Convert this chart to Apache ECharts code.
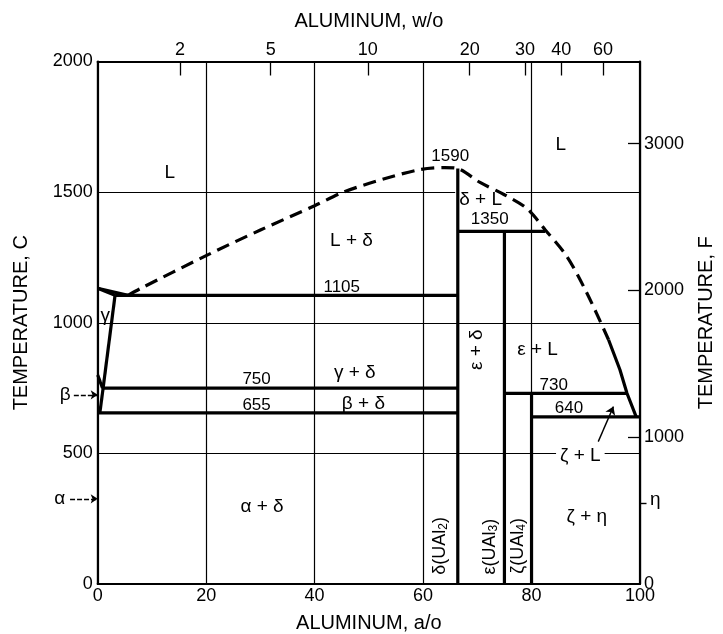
<!DOCTYPE html>
<html><head><meta charset="utf-8">
<script src="https://cdn.jsdelivr.net/npm/echarts@6/dist/echarts.min.js"></script>
<style>html,body{margin:0;padding:0;background:#fff}#c{width:723px;height:634px}</style>
</head><body><div id="c"></div>
<script>
// ---- axis ticks ----
const aTicks = [0, 20, 40, 60, 80, 100];
const tTicks = [0, 500, 1000, 1500, 2000];
const wTickLabels = ['2', '5', '10', '20', '30', '40', '60'];
const wTickPos = [15.2, 31.9, 49.8, 68.6, 78.8, 85.5, 93.2];
const fTickLabels = [0, 1000, 2000, 3000];
const fMax = 3560;

// ---- phase boundaries (x = a/o Al, y = deg C) ----
const uLiquidus = [[0, 1132], [5.6, 1105]];
const uSolidus = [[0, 1132], [3.2, 1105]];
const eutectic1105 = [[3.2, 1105], [66.4, 1105]];
const gammaSolvus = [[3.2, 1105], [1.0, 750]];
const betaSolvus = [[1.0, 750], [0.4, 655]];
const betaGammaEdge = [[0, 800], [0.5, 772], [0.9, 750]];
const eutectoid750 = [[1.0, 750], [66.4, 750]];
const eutectoid655 = [[0, 655], [66.4, 655]];
const deltaLine = [[66.4, 0], [66.4, 1590]];
const epsLine = [[75, 0], [75, 1350]];
const peritectic1350 = [[66.4, 1350], [82.5, 1350]];
const zetaLine = [[80, 0], [80, 730]];
const peritectic730 = [[75, 730], [97.6, 730]];
const eutectic640 = [[80, 640], [100, 640]];
const liquidusSolid = [[94.2, 935], [96.3, 820], [97.6, 730], [99.3, 640]];
const liquidusDashed = [[5.6, 1105], [7.8, 1130], [20, 1257], [30, 1355], [40, 1448], [45.3, 1500], [52.7, 1550], [59.4, 1586], [64, 1594], [66.4, 1590], [70.5, 1537], [75, 1490], [79.1, 1438], [82.5, 1356], [86.5, 1254], [90.2, 1114], [94.2, 935]];

// ---- annotations ----
const arrowZetaL = [[92.3, 545], [95.1, 679]];
const arrowBeta = [[-4.4, 724], [0, 724]];
const arrowAlpha = [[-5.1, 326], [0, 326]];
const etaTick = [[100, 309], [101.2, 309]];
// [x, y, text, rotate, whiteBackground]
const phaseLabels = [
  [13.3, 1575, 'L', 0], [85.4, 1682, 'L', 0], [65, 1637, '1590', 0],
  [70.6, 1472, 'δ + L', 0, true], [72.3, 1395, '1350', 0], [46.8, 1315, 'L + δ', 0],
  [45, 1136, '1105', 0], [1.4, 1025, 'γ', 0], [47.4, 808, 'γ + δ', 0],
  [29.3, 782, '750', 0], [29.3, 684, '655', 0], [49, 690, 'β + δ', 0],
  [30.3, 295, 'α + δ', 0], [69.9, 897, 'ε + δ', 90], [81.1, 897, 'ε + L', 0],
  [84.1, 762, '730', 0], [86.9, 674, '640', 0], [89, 490, 'ζ + L', 0, true],
  [90.2, 258, 'ζ + η', 0], [63.1, 146, 'δ(UAl{s|2})', 90], [72.3, 143, 'ε(UAl{s|3})', 90],
  [77.6, 146, 'ζ(UAl{s|4})', 90], [-6, 724, 'β', 0], [-7, 326, 'α', 0], [102.8, 322, 'η', 0]
];

const FONT = '"Liberation Sans", "DejaVu Sans", sans-serif';
const solidSets = [uLiquidus, uSolidus, eutectic1105, gammaSolvus, betaSolvus, betaGammaEdge,
  eutectoid750, eutectoid655, deltaLine, epsLine, peritectic1350, zetaLine, peritectic730,
  eutectic640, liquidusSolid];

const series = solidSets.map(d => ({
  type: 'line', data: d, symbol: 'none', silent: true, animation: false, z: 3,
  lineStyle: { color: '#000', width: 3.2 }, xAxisIndex: 0, yAxisIndex: 0
}));
series.push({
  type: 'line', data: liquidusDashed, symbol: 'none', smooth: 0.3, animation: false, z: 3,
  lineStyle: { color: '#000', width: 3.2, type: [13, 7] }
});
series.push({
  type: 'lines', coordinateSystem: 'cartesian2d', clip: false, animation: false, z: 3,
  symbol: ['none', 'arrow'], symbolSize: 8,
  lineStyle: { color: '#000', width: 1.4, opacity: 1 },
  data: [{ coords: arrowZetaL }]
});
series.push({
  type: 'lines', coordinateSystem: 'cartesian2d', clip: false, animation: false, z: 3,
  symbol: ['none', 'arrow'], symbolSize: 7,
  lineStyle: { color: '#000', width: 1.4, type: [5, 2], opacity: 1 },
  data: [{ coords: arrowBeta }, { coords: arrowAlpha }]
});
series.push({
  type: 'lines', coordinateSystem: 'cartesian2d', clip: false, animation: false, z: 3,
  symbol: 'none', lineStyle: { color: '#000', width: 1.4, opacity: 1 },
  data: [{ coords: etaTick }]
});
const isNumber = t => /^\d+$/.test(t);
series.push({
  type: 'scatter', clip: false, animation: false, symbolSize: 0, silent: true, z: 1,
  itemStyle: { color: '#000', opacity: 1 },
  label: { show: true, position: 'inside', color: '#000', opacity: 1, fontSize: 17,
    fontFamily: FONT, textBorderWidth: 0, formatter: p => p.name,
    rich: { s: { fontSize: 12, color: '#000', fontFamily: FONT, padding: [7, 0, 0, 0] } } },
  data: phaseLabels.map(l => ({
    name: l[2], value: [l[0], l[1]],
    label: Object.assign({ rotate: l[3], fontSize: isNumber(l[2]) ? 17 : 19 },
      l[2].indexOf('UAl') >= 0 ? { fontSize: 18 } : {},
      l[4] ? { backgroundColor: '#fff', padding: [1, 4] } : {})
  }))
});

const plain = v => String(v);
const chart = echarts.init(document.getElementById('c'), null, { renderer: 'canvas' });
chart.setOption({
  backgroundColor: '#fff',
  animation: false,
  textStyle: { fontFamily: FONT, color: '#000' },
  grid: { left: 97.7, right: 83, top: 61.5, bottom: 50, show: false,
    containLabel: false, outerBoundsMode: 'none' },
  xAxis: [{
    type: 'value', position: 'bottom', min: 0, max: 100, interval: 20,
    axisLine: { show: true, onZero: false, lineStyle: { color: '#000', width: 2.2 } },
    axisTick: { show: false },
    splitLine: { show: true, lineStyle: { color: '#000', width: 1.2 } },
    axisLabel: { color: '#000', fontSize: 18, margin: 3, fontFamily: FONT,
      customValues: aTicks, formatter: plain },
    name: 'ALUMINUM, a/o', nameLocation: 'middle', nameGap: 29,
    nameTextStyle: { fontSize: 20, color: '#000', fontFamily: FONT }
  }, {
    type: 'value', position: 'top', min: 0, max: 100,
    axisLine: { show: true, onZero: false, lineStyle: { color: '#000', width: 2.2 } },
    axisTick: { show: true, inside: true, length: 14, customValues: wTickPos,
      lineStyle: { color: '#000', width: 1.3 } },
    splitLine: { show: false },
    axisLabel: { color: '#000', fontSize: 18, margin: 2, fontFamily: FONT,
      customValues: wTickPos, formatter: v => wTickLabels[wTickPos.indexOf(v)] },
    name: 'ALUMINUM, w/o', nameLocation: 'middle', nameGap: 30,
    nameTextStyle: { fontSize: 20, color: '#000', fontFamily: FONT }
  }],
  yAxis: [{
    type: 'value', position: 'left', min: 0, max: 2000, interval: 500,
    axisLine: { show: true, onZero: false, lineStyle: { color: '#000', width: 2.2 } },
    axisTick: { show: false },
    splitLine: { show: true, lineStyle: { color: '#000', width: 1.2 } },
    axisLabel: { color: '#000', fontSize: 18, margin: 5, fontFamily: FONT,
      customValues: tTicks, formatter: plain },
    name: 'TEMPERATURE, C', nameLocation: 'middle', nameRotate: 90, nameGap: 66,
    nameTextStyle: { fontSize: 20, color: '#000', fontFamily: FONT }
  }, {
    type: 'value', position: 'right', min: 0, max: fMax,
    axisLine: { show: true, onZero: false, lineStyle: { color: '#000', width: 2.2 } },
    axisTick: { show: true, inside: true, length: 12, customValues: [1000, 2000, 3000],
      lineStyle: { color: '#000', width: 1.3 } },
    splitLine: { show: false },
    axisLabel: { color: '#000', fontSize: 18, margin: 4, fontFamily: FONT,
      customValues: fTickLabels, formatter: plain },
    name: 'TEMPERATURE, F', nameLocation: 'middle', nameRotate: 90, nameGap: 56,
    nameTextStyle: { fontSize: 20, color: '#000', fontFamily: FONT }
  }],
  series: series
});
</script></body></html>
